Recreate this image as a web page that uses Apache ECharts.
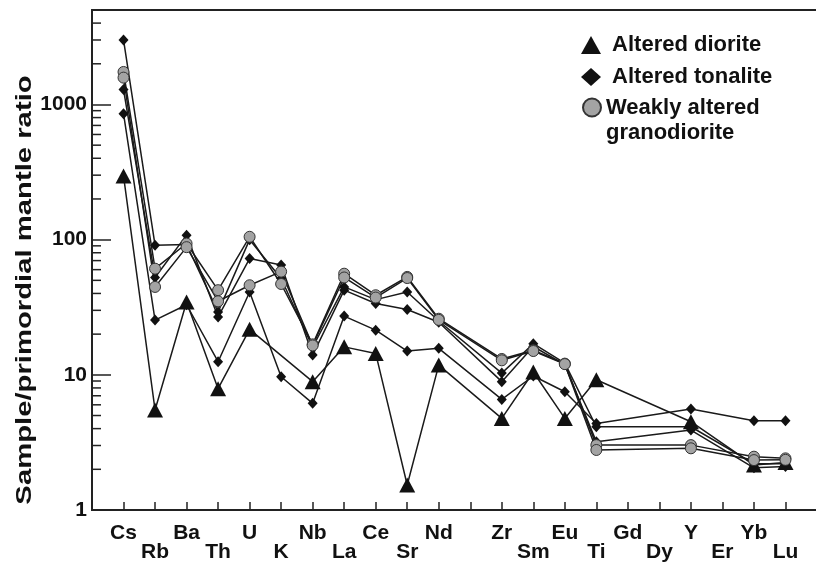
<!DOCTYPE html>
<html>
<head>
<meta charset="utf-8">
<script src="https://cdn.jsdelivr.net/npm/echarts@6/dist/echarts.min.js"></script>
<style>
html,body{margin:0;padding:0;background:#fff;}
#chart{width:816px;height:563px;}
</style>
</head>
<body>
<div id="chart"></div>
<script>
// Element order (blank slots have no element label)
const categories = [' ', 'Cs','Rb','Ba','Th','U','K','Nb','La','Ce','Sr','Nd','  ','Zr','Sm','Eu','Ti','Gd','Dy','Y','Er','Yb','Lu','   '];
const lowerRowLabels = ['Rb','Th','K','La','Sr','Sm','Ti','Dy','Er','Lu'];

// Altered diorite (triangles)
const diorite1   = [null, 296, 5.5, 34.6, 7.9, 21.7, null, 8.9, 16.1, 14.4, 1.53, 11.8, null, 4.76, 10.5, 4.76, 9.2, null, null, 4.5, null, 2.15, 2.25, null];
// Altered tonalite (diamonds)
const tonalite1  = [null, 3000, 91, 92, 29.2, 100, 51.6, 16, 44.7, 36, 41, 25, null, 10.3, 17, 12.2, 4.13, null, null, 4.13, null, 2.2, 2.2, null];
const tonalite2  = [null, 1290, 52.5, 108, 26.8, 72.5, 65, 14, 42.3, 33.7, 30.4, 24.5, null, 8.9, 16.2, 11.9, 3.2, null, null, 3.9, null, 2.05, 2.1, null];
const tonalite3  = [null, 855, 25.4, 33, 12.5, 41, 9.67, 6.15, 27.2, 21.4, 15, 15.7, null, 6.58, 9.8, 7.49, 4.37, null, null, 5.58, null, 4.57, 4.57, null];
// Weakly altered granodiorite (grey circles)
const granodiorite1 = [null, 1740, 61, 93.6, 42.3, 105, 47, 16.8, 56, 38.8, 53, 26, null, 13.1, 15.2, 12.1, 3.02, null, null, 3.02, null, 2.48, 2.41, null];
const granodiorite2 = [null, 1580, 44.7, 88, 35, 46, 58, 16.5, 52.5, 37.3, 52, 25.5, null, 12.8, 15, 12, 2.78, null, null, 2.86, null, 2.34, 2.35, null];

const yMajorLabels = [1, 10, 100, 1000];
const yMinorTicks = [2,3,4,5,6,7,8,9,20,30,40,50,60,70,80,90,200,300,400,500,600,700,800,900,2000,3000,4000];

const FONT = '"Liberation Sans", Arial, Helvetica, sans-serif';
const INK = '#111';
const NAME_D = 'Altered diorite';
const NAME_T = 'Altered tonalite';
const NAME_G = 'Weakly altered\ngranodiorite';

function lineSeries(name, data, kind) {
  const s = {
    name: name, type: 'line', data: data, connectNulls: true,
    lineStyle: {color: '#1a1a1a', width: 1.5},
    emphasis: {disabled: true}
  };
  if (kind === 'D') {
    s.symbol = 'triangle'; s.symbolSize = [16, 15];
    s.itemStyle = {color: '#111'};
  } else if (kind === 'T') {
    s.symbol = 'diamond'; s.symbolSize = [10, 11];
    s.itemStyle = {color: '#111'};
  } else {
    s.symbol = 'circle'; s.symbolSize = 11;
    s.itemStyle = {color: '#a3a3a3', borderColor: '#333', borderWidth: 1};
  }
  return s;
}

const legendText = {fontFamily: FONT, fontSize: 22, fontWeight: 'bold', color: INK};

const chart = echarts.init(document.getElementById('chart'), null, {renderer: 'canvas'});
chart.setOption({
  animation: false,
  backgroundColor: '#fff',
  grid: {left: 92, top: 10, width: 725, height: 500, containLabel: false, outerBoundsMode: 'none',
         show: true, borderColor: '#222', borderWidth: 1.8},
  legend: [
    {
      data: [{name: NAME_D, icon: 'triangle'}, {name: NAME_T, icon: 'diamond'}],
      formatter: function (name) { return ' ' + name; },
      orient: 'vertical', left: 581, top: 33, padding: 0,
      itemWidth: 20, itemHeight: 18, itemGap: 8,
      selectedMode: false,
      textStyle: Object.assign({lineHeight: 24}, legendText)
    },
    {
      data: [{name: NAME_G, icon: 'circle'}],
      formatter: function (name) { return '\n' + name.split('\n').map(function (s) { return s; }).join('\n'); },
      orient: 'vertical', left: 582, top: 70, padding: 0,
      itemWidth: 18, itemHeight: 18, itemGap: 8,
      selectedMode: false,
      textStyle: Object.assign({lineHeight: 25}, legendText)
    }
  ],
  xAxis: {
    type: 'category', data: categories, boundaryGap: false,
    axisLine: {lineStyle: {color: '#222', width: 2}},
    axisTick: {inside: true, length: 8, interval: 0, lineStyle: {color: '#222', width: 1.5}},
    axisLabel: {
      interval: 0, margin: 14, color: INK, fontFamily: FONT, fontSize: 21, fontWeight: 'bold', lineHeight: 19,
      formatter: function (v) { return lowerRowLabels.indexOf(v) >= 0 ? '\n' + v : v; }
    },
    splitLine: {show: false}
  },
  yAxis: {
    type: 'log', logBase: 10, min: 1, max: 5000,
    axisLine: {show: true, lineStyle: {color: '#222', width: 2}},
    axisTick: {show: true, inside: true, length: 19, lineStyle: {color: '#222', width: 1.5}},
    axisLabel: {
      margin: 5, color: INK, fontFamily: FONT, fontSize: 21, fontWeight: 'bold', showMaxLabel: false,
      formatter: function (v) {
        for (const m of yMajorLabels) { if (Math.abs(v - m) < 1e-6 * m) return String(m); }
        return '';
      }
    },
    splitLine: {show: false},
    minorTick: {show: false}
  },
  graphic: [{
    type: 'text', x: 25, y: 290, rotation: Math.PI / 2, scaleX: 1.33, scaleY: 1,
    style: {text: 'Sample/primordial mantle ratio', fontFamily: FONT, fontSize: 22, fontWeight: 'bold',
            fill: INK, align: 'center', verticalAlign: 'middle'}
  }],
  series: [
    {
      name: 'minor ticks', type: 'custom', silent: true, z: 1,
      data: yMinorTicks.map(function (v) { return [0, v]; }),
      encode: {x: 0, y: 1},
      renderItem: function (params, api) {
        const p = api.coord([api.value(0), api.value(1)]);
        return {type: 'line', shape: {x1: p[0], y1: p[1], x2: p[0] + 9, y2: p[1]},
                style: {stroke: '#222', lineWidth: 1.5}};
      }
    },
    lineSeries(NAME_T, tonalite1, 'T'),
    lineSeries(NAME_T, tonalite2, 'T'),
    lineSeries(NAME_T, tonalite3, 'T'),
    lineSeries(NAME_D, diorite1, 'D'),
    lineSeries(NAME_G, granodiorite1, 'G'),
    lineSeries(NAME_G, granodiorite2, 'G')
  ]
});
</script>
</body>
</html>
